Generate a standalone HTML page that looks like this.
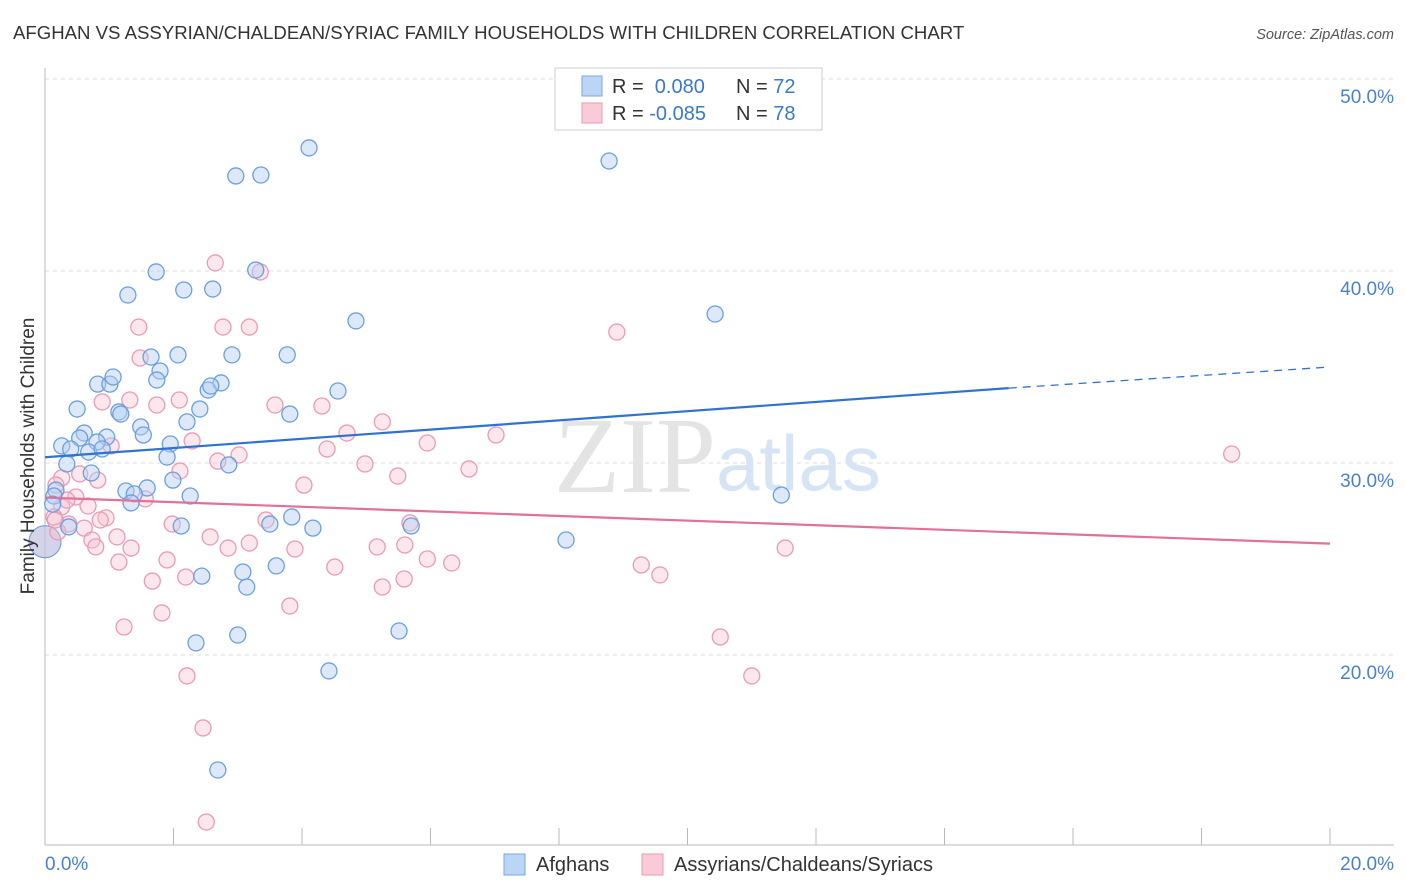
<!DOCTYPE html>
<html><head><meta charset="utf-8"><style>
body{margin:0;background:#fff;font-family:"Liberation Sans",sans-serif;}
svg{display:block}
</style></head><body>
<svg id="chart" width="1406" height="892">
<text x="13" y="39" font-size="18.6" fill="#333">AFGHAN VS ASSYRIAN/CHALDEAN/SYRIAC FAMILY HOUSEHOLDS WITH CHILDREN CORRELATION CHART</text>
<text x="1394" y="39" font-size="14.5" fill="#555" text-anchor="end" font-style="italic">Source: ZipAtlas.com</text>
<g id="grid"></g>
<text x="716" y="492" font-size="108" fill="#e4e4e4" text-anchor="end" font-family="Liberation Serif">ZIP</text>
<text x="716" y="490" font-size="78" fill="#d6e4f5">atlas</text>
<g id="pts"></g>
<g id="trends"></g>
<text transform="translate(34,456) rotate(-90)" font-size="19" fill="#333" text-anchor="middle">Family Households with Children</text>
<text x="45" y="870" font-size="19" fill="#4a7fd4">0.0%</text>
<text x="1394" y="870" font-size="19" fill="#4a7fd4" text-anchor="end">20.0%</text>
<g>
<rect x="555" y="68" width="267" height="62" fill="#fff" stroke="#ccc"/>
<rect x="582" y="76" width="20" height="20" fill="#bcd5f5" stroke="#7aa6e0"/>
<rect x="582" y="103" width="20" height="20" fill="#f9cad8" stroke="#e99ab4"/>
<text x="612" y="93" font-size="20" fill="#333">R = <tspan fill="#3a78d0">&#160;0.080</tspan></text>
<text x="736" y="93" font-size="20" fill="#333">N = <tspan fill="#3a78d0">72</tspan></text>
<text x="612" y="120" font-size="20" fill="#333">R = <tspan fill="#3a78d0">-0.085</tspan></text>
<text x="736" y="120" font-size="20" fill="#333">N = <tspan fill="#3a78d0">78</tspan></text>
</g>
<g>
<rect x="504" y="854" width="21" height="21" fill="#bcd5f5" stroke="#7aa6e0"/>
<text x="536" y="871" font-size="20" fill="#333">Afghans</text>
<rect x="642" y="854" width="21" height="21" fill="#f9cad8" stroke="#e99ab4"/>
<text x="674" y="871" font-size="20" fill="#333">Assyrians/Chaldeans/Syriacs</text>
</g>
</svg>
<script>
const yTicks=[20,30,40,50];
const yTickLabels=["20.0%","30.0%","40.0%","50.0%"];
const xTicks=[0,2,4,6,8,10,12,14,16,18,20];
const afghanPx=[[309,148],[609,161],[236,176],[261,175],[156,272],[256,270],[128,295],[184,290],[213,289],[356,321],[715,314],[151,357],[178,355],[232,355],[287,355],[98,384],[110,384],[113,377],[160,371],[157,380],[208,390],[221,383],[211,386],[338,391],[77,409],[119,412],[121,414],[200,409],[290,414],[187,422],[141,427],[143,435],[84,433],[80,438],[107,437],[97,442],[62,446],[71,449],[89,452],[102,449],[170,444],[167,457],[229,465],[67,464],[91,473],[173,480],[56,490],[147,488],[126,491],[134,494],[190,496],[54,496],[53,504],[131,503],[781,495],[292,517],[181,526],[69,527],[313,528],[270,524],[411,526],[566,540],[243,572],[276,566],[202,576],[247,587],[196,643],[238,635],[399,631],[329,671],[218,770]];
const assyrPx=[[215,263],[260,272],[139,327],[223,327],[249,327],[617,332],[140,358],[179,400],[157,405],[102,402],[130,400],[275,405],[322,406],[382,422],[347,433],[496,435],[192,441],[111,446],[427,443],[327,449],[239,455],[218,461],[365,464],[469,469],[180,471],[398,476],[80,474],[62,478],[98,480],[304,485],[56,485],[76,497],[145,499],[62,507],[88,506],[106,518],[54,517],[266,520],[69,524],[172,524],[410,523],[84,528],[58,532],[210,537],[92,540],[117,537],[249,543],[228,548],[295,549],[131,548],[96,547],[377,547],[405,545],[427,559],[452,563],[119,562],[167,560],[335,567],[641,565],[660,575],[152,581],[186,577],[404,579],[382,587],[290,606],[162,613],[124,627],[720,637],[187,676],[752,676],[203,728],[206,822],[1232,454],[785,548],[55,520],[100,520],[67,500]];
const afghanX=afghanPx.map(p=>+((p[0]-45)/64.25).toFixed(2));
const afghanY=afghanPx.map(p=>+(20+(655-p[1])/19.2).toFixed(2));
const assyrX=assyrPx.map(p=>+((p[0]-45)/64.25).toFixed(2));
const assyrY=assyrPx.map(p=>+(20+(655-p[1])/19.2).toFixed(2));
const afghanTrend=[30.3,33.9,35.0];
const assyrTrend=[28.2,25.8];

const X=v=>45+v*64.25, Y=v=>655-(v-20)*19.2;
const NS="http://www.w3.org/2000/svg";
function mk(tag,attrs,parent){const e=document.createElementNS(NS,tag);for(const k in attrs)e.setAttribute(k,attrs[k]);parent.appendChild(e);return e;}
const grid=document.getElementById('grid');
yTicks.forEach((t,i)=>{
 const l=mk('line',{x1:45,x2:1394,y1:Y(t),y2:Y(t),stroke:'#ddd','stroke-dasharray':'4,4'},grid);
 
 
 const tx=mk('text',{x:1394,y:Y(t)+24,'font-size':19,fill:'#4a7fd4','text-anchor':'end'},grid);
 tx.textContent=yTickLabels[i];
 
 
});
const ax=mk('line',{x1:45,x2:45,y1:68,y2:845,stroke:'#bbb'},grid);


const bx=mk('line',{x1:45,x2:1394,y1:845,y2:845,stroke:'#bbb'},grid);


xTicks.forEach(t=>{
 const l=mk('line',{x1:X(t),x2:X(t),y1:828,y2:845,stroke:'#bbb'},grid);
 
 
});
const pts=document.getElementById('pts');
function big(fill,stroke,name){const c=mk('circle',{cx:X(0),cy:Y(25.9),r:16,fill:fill,'fill-opacity':0.45,stroke:stroke},pts);
 
 }
big('#f4b3c7','#e88aa8','assyrian-point-large');
big('#a9c8f0','#6a9fe0','afghan-point-large');
assyrX.forEach((x,i)=>{const c=mk('circle',{cx:X(x),cy:Y(assyrY[i]),r:8,fill:'#f7c3d3','fill-opacity':0.4,stroke:'#eb9ab5','stroke-width':1.3},pts);
 
 });
afghanX.forEach((x,i)=>{const c=mk('circle',{cx:X(x),cy:Y(afghanY[i]),r:8,fill:'#b3cff2','fill-opacity':0.45,stroke:'#6c9fe0','stroke-width':1.3},pts);
 
 });
const tr=document.getElementById('trends');
let l=mk('line',{x1:X(0),y1:Y(afghanTrend[0]),x2:X(15),y2:Y(afghanTrend[1]),stroke:'#2f72d6','stroke-width':2.2},tr);


l=mk('line',{x1:X(15),y1:Y(afghanTrend[1]),x2:X(20),y2:Y(afghanTrend[2]),stroke:'#2f72d6','stroke-width':1.3,'stroke-dasharray':'8,6'},tr);


l=mk('line',{x1:X(0),y1:Y(assyrTrend[0]),x2:X(20),y2:Y(assyrTrend[1]),stroke:'#e4709a','stroke-width':2.2},tr);


</script>
</body></html>
